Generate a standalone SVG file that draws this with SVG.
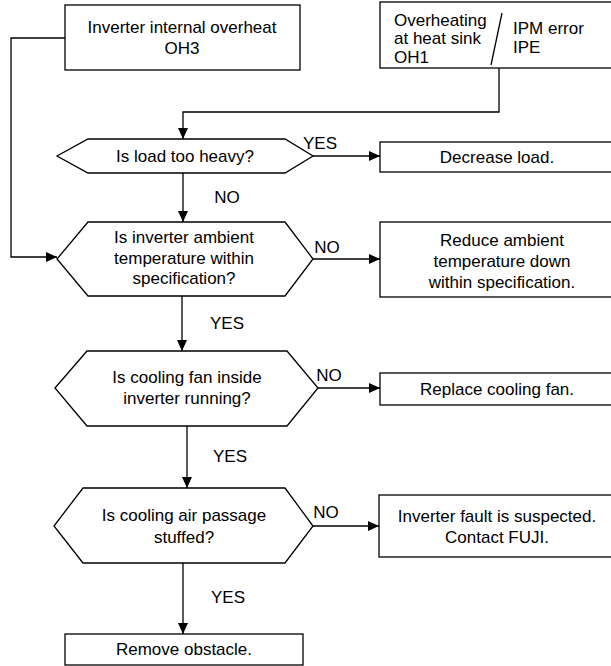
<svg xmlns="http://www.w3.org/2000/svg" width="611" height="666" viewBox="0 0 611 666">
<style>
.box{fill:#fff;stroke:#000;stroke-width:1.3}
.t{font-family:"Liberation Sans",Arial,sans-serif;font-size:17px;fill:#000}
.c{text-anchor:middle}
.ln{fill:none;stroke:#000;stroke-width:1.3}
</style>
<defs>
<marker id="ah" markerUnits="userSpaceOnUse" markerWidth="12" markerHeight="10" refX="11" refY="5" orient="auto">
<path d="M0,0 L11,5 L0,10 Z" fill="#000"/>
</marker>
</defs>
<rect width="611" height="666" fill="#fff"/>
<g id="connectors">
<path class="ln" d="M65,38 H11 V257 H57" marker-end="url(#ah)"/>
<path class="ln" d="M499,68 V112 H183 V139" marker-end="url(#ah)"/>
<path class="ln" d="M183,173 V222" marker-end="url(#ah)"/>
<path class="ln" d="M182,296 V351" marker-end="url(#ah)"/>
<path class="ln" d="M187,426 V488" marker-end="url(#ah)"/>
<path class="ln" d="M183,563 V634" marker-end="url(#ah)"/>
<path class="ln" d="M313,156 H380" marker-end="url(#ah)"/>
<path class="ln" d="M313,259 H380" marker-end="url(#ah)"/>
<path class="ln" d="M318,388 H380" marker-end="url(#ah)"/>
<path class="ln" d="M313,526 H379" marker-end="url(#ah)"/>
<text class="t c" x="320" y="149">YES</text>
<text class="t c" x="227" y="203">NO</text>
<text class="t c" x="327" y="253">NO</text>
<text class="t c" x="227" y="329">YES</text>
<text class="t c" x="329" y="381">NO</text>
<text class="t c" x="230" y="462">YES</text>
<text class="t c" x="326" y="518">NO</text>
<text class="t c" x="228" y="603">YES</text>
</g>
<g id="oh3">
<rect class="box" x="65" y="5" width="235" height="65"/>
<text class="t c" x="182" y="33">Inverter internal overheat</text>
<text class="t c" x="182" y="54">OH3</text>
</g>
<g id="oh1">
<rect class="box" x="380" y="2" width="233" height="66"/>
<text class="t" x="394" y="26">Overheating</text>
<text class="t" x="394" y="44">at heat sink</text>
<text class="t" x="394" y="63">OH1</text>
<line class="ln" x1="502" y1="13" x2="491" y2="65"/>
<text class="t" x="513" y="34">IPM error</text>
<text class="t" x="513" y="53">IPE</text>
</g>
<g id="q1">
<polygon class="box" points="57,156 88,139 285,139 313,156 285,173 88,173"/>
<text class="t c" x="185" y="162">Is load too heavy?</text>
</g>
<g id="a1">
<rect class="box" x="380" y="142" width="233" height="30"/>
<text class="t c" x="497" y="163">Decrease load.</text>
</g>
<g id="q2">
<polygon class="box" points="57,259 88,222 285,222 313,259 285,296 88,296"/>
<text class="t c" x="184" y="243">Is inverter ambient</text>
<text class="t c" x="184" y="264">temperature within</text>
<text class="t c" x="184" y="284">specification?</text>
</g>
<g id="a2">
<rect class="box" x="380" y="222" width="233" height="75"/>
<text class="t c" x="502" y="246">Reduce ambient</text>
<text class="t c" x="502" y="267">temperature down</text>
<text class="t c" x="502" y="288">within specification.</text>
</g>
<g id="q3">
<polygon class="box" points="55,388 87,351 287,351 318,388 287,426 87,426"/>
<text class="t c" x="187" y="383">Is cooling fan inside</text>
<text class="t c" x="187" y="404">inverter running?</text>
</g>
<g id="a3">
<rect class="box" x="380" y="373" width="233" height="32"/>
<text class="t c" x="497" y="395">Replace cooling fan.</text>
</g>
<g id="q4">
<polygon class="box" points="54,526 83,488 285,488 313,526 285,563 83,563"/>
<text class="t c" x="184" y="521">Is cooling air passage</text>
<text class="t c" x="184" y="543">stuffed?</text>
</g>
<g id="a4">
<rect class="box" x="379" y="495" width="234" height="62"/>
<text class="t c" x="497" y="522">Inverter fault is suspected.</text>
<text class="t c" x="497" y="543">Contact FUJI.</text>
</g>
<g id="end">
<rect class="box" x="65" y="634" width="238" height="31"/>
<text class="t c" x="184" y="655">Remove obstacle.</text>
</g>
</svg>
